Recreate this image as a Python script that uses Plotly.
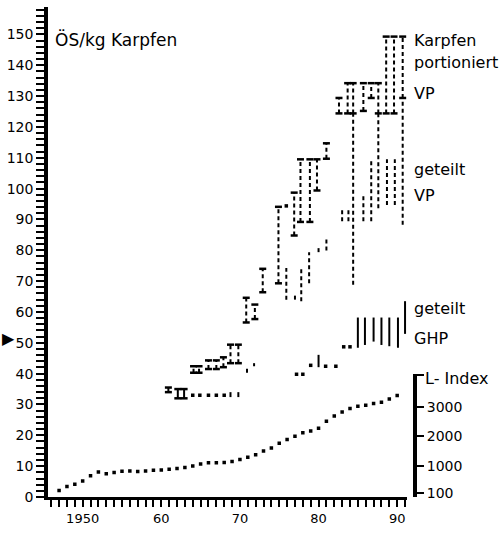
import plotly.graph_objects as go

# ---------------- data ----------------
# L-Index (Lebenshaltungskosten-Index), right-hand axis
l_years = list(range(1947, 1991))
l_index = [175, 307, 383, 492, 670, 802, 736, 779, 822, 835,
           812, 835, 855, 868, 888, 921, 954, 1000, 1066, 1109,
           1109, 1119, 1152, 1218, 1297, 1383, 1505, 1614, 1769, 1901,
           2010, 2122, 2188, 2274, 2518, 2693, 2825, 2947, 3023, 3056,
           3112, 3155, 3264, 3386]

# Karpfen portioniert, Verbraucherpreis (ÖS/kg): price ranges
por_years = [1964.1, 1964.8, 1966.0, 1967.0, 1967.9, 1968.8, 1969.8, 1970.8,
             1971.9, 1972.9, 1974.9, 1976.9, 1977.7, 1978.9, 1979.8, 1981.0,
             1982.6, 1983.7, 1984.4, 1985.7, 1986.7, 1987.6, 1988.6, 1989.6, 1990.7]
por_low = [40.3, 40.3, 41.5, 41.5, 42.1, 43.4, 43.4, 56.6,
           57.7, 66.4, 69.3, 84.8, 89.2, 89.2, 99.4, 109.7,
           124.4, 124.4, 124.4, 125.2, 129.4, 124.4, 124.4, 124.4, 129.4]
por_high = [42.4, 42.4, 44.3, 44.3, 45.3, 49.4, 49.4, 64.6,
            62.4, 74.0, 94.1, 98.7, 109.5, 109.5, 109.5, 114.7,
            129.4, 134.2, 134.2, 134.2, 134.2, 134.2, 149.3, 149.3, 149.3]

# Karpfen geteilt, Verbraucherpreis (ÖS/kg)
vp_years = [1970.9, 1971.8, 1975.9, 1975.9, 1977.0, 1977.8, 1978.8, 1980.0, 1981.0,
            1983.0, 1983.8, 1984.4, 1985.7, 1986.7, 1987.6, 1988.7, 1989.7, 1990.7]
vp_low = [40.3, 42.4, 64.0, 94.4, 64.0, 63.5, 69.3, 79.4, 79.9,
          89.4, 89.4, 68.8, 89.4, 89.4, 93.6, 94.7, 94.7, 88.3]
vp_high = [41.9, 43.4, 74.3, 94.4, 66.0, 74.8, 79.4, 80.9, 84.3,
           94.0, 93.1, 124.4, 98.4, 109.5, 124.4, 109.5, 109.5, 129.4]

# Karpfen geteilt, Großhandelspreis (ÖS/kg)
ghp_early_years = [1960.9, 1962.1, 1962.9]
ghp_early_low = [34.0, 32.0, 32.0]
ghp_early_high = [35.5, 35.0, 35.0]

ghp_years = [1964.0, 1964.9, 1966.0, 1967.0, 1968.0, 1968.8, 1969.8,
             1977.2, 1978.0, 1979.0, 1980.0, 1980.9, 1982.2, 1983.2, 1984.0,
             1985.0, 1985.9, 1987.0, 1988.0, 1989.0, 1990.1, 1991.0]
ghp_low = [33.0, 33.0, 33.0, 33.0, 33.0, 32.4, 32.4,
           39.8, 39.8, 42.7, 42.1, 42.4, 42.4, 48.7, 48.7,
           48.4, 49.3, 50.4, 49.3, 48.9, 48.4, 52.9]
ghp_high = [33.0, 33.0, 33.0, 33.0, 33.0, 34.0, 34.0,
            39.8, 39.8, 42.7, 46.1, 42.4, 42.4, 48.7, 48.7,
            58.2, 58.2, 58.2, 58.2, 58.2, 58.2, 63.5]

# tick marks: a tick every year / every 2 ÖS, labels at the decades
x_tick_vals = list(range(1946, 1992))
x_tick_labels = {1950: "1950", 1960: "60", 1970: "70", 1980: "80", 1990: "90"}
y_tick_vals = list(range(0, 159, 2))
y_tick_labels = {v: str(v) for v in range(0, 151, 10)}
l_tick_vals = [100, 1000, 2000, 3000, 4080]
l_tick_text = ["100", "1000", "2000", "3000", ""]

labels_right = [("Karpfen", 147.9), ("portioniert", 141.0), ("VP", 131.0),
                ("geteilt", 106.3), ("VP", 97.8), ("geteilt", 61.0), ("GHP", 51.5)]

X_RANGE = [1945.59, 1991.24]
Y_RANGE = [0, 158.9]

# ---------------- helpers ----------------
BLACK = "black"


def segments(xs, lo, hi):
    X, Y = [], []
    for x, a, b in zip(xs, lo, hi):
        if a != b:
            X += [x, x, None]
            Y += [a, b, None]
    return X, Y


def singles(xs, lo, hi):
    X, Y = [], []
    for x, a, b in zip(xs, lo, hi):
        if a == b:
            X.append(x)
            Y.append(a)
    return X, Y


def range_traces(xs, lo, hi, dash, caps, width=2.0):
    traces = []
    X, Y = segments(xs, lo, hi)
    traces.append(go.Scatter(x=X, y=Y, mode="lines",
                             line=dict(color=BLACK, width=width, dash=dash),
                             hoverinfo="skip"))
    if caps:
        keep = [(x, a, b) for x, a, b in zip(xs, lo, hi) if a != b]
        cx = [k[0] for k in keep] * 2
        cy = [k[1] for k in keep] + [k[2] for k in keep]
        traces.append(go.Scatter(x=cx, y=cy, mode="markers",
                                 marker=dict(symbol="line-ew", size=5,
                                             line=dict(color=BLACK, width=2.5)),
                                 hoverinfo="skip"))
    sx, sy = singles(xs, lo, hi)
    if sx:
        traces.append(go.Scatter(x=sx, y=sy, mode="markers",
                                 marker=dict(symbol="square", size=3.5, color=BLACK),
                                 hoverinfo="skip"))
    return traces


fig = go.Figure()
for t in range_traces(por_years, por_low, por_high, "4px,3px", True):
    fig.add_trace(t)
for t in range_traces(vp_years, vp_low, vp_high, "4px,3px", False):
    fig.add_trace(t)
for t in range_traces(ghp_early_years, ghp_early_low, ghp_early_high, "solid", True):
    fig.add_trace(t)
for t in range_traces(ghp_years, ghp_low, ghp_high, "solid", False):
    fig.add_trace(t)

fig.add_trace(go.Scatter(x=l_years, y=l_index, mode="markers", yaxis="y2",
                         marker=dict(symbol="square", size=3.5, color=BLACK),
                         hoverinfo="skip"))

tick_common = dict(showgrid=False, zeroline=False, showline=True,
                   linecolor=BLACK, tickcolor=BLACK, ticks="outside")

fig.update_layout(
    width=503, height=533,
    margin=dict(l=45, r=88, t=7, b=24),
    paper_bgcolor="white", plot_bgcolor="rgba(0,0,0,0)",
    showlegend=False,
    font=dict(family="DejaVu Sans", color=BLACK),
    xaxis=dict(range=X_RANGE, domain=[0, 0.978], anchor="y",
               linewidth=3, ticklen=7, tickwidth=1.5,
               tickmode="array", tickvals=x_tick_vals,
               ticktext=[x_tick_labels.get(v, "") for v in x_tick_vals],
               tickfont=dict(size=13, color=BLACK),
               **tick_common),
    yaxis=dict(range=Y_RANGE, domain=[0, 1], anchor="x",
               linewidth=3.5, ticklen=8, tickwidth=1.5,
               tickmode="array", tickvals=y_tick_vals,
               ticktext=[y_tick_labels.get(v, "") for v in y_tick_vals],
               tickfont=dict(size=14, color=BLACK),
               **tick_common),
    yaxis2=dict(range=[-46, 4102], domain=[0, 0.2504], anchor="free",
                position=1.0, side="right",
                linewidth=4, ticklen=7, tickwidth=1.5,
                tickmode="array", tickvals=l_tick_vals, ticktext=l_tick_text,
                tickfont=dict(size=14, color=BLACK),
                **tick_common),
)

fig.add_annotation(text="ÖS/kg Karpfen", xref="paper", yref="y",
                   x=0.0135, y=148.4, xanchor="left", yanchor="middle",
                   showarrow=False, font=dict(size=17, color=BLACK))
for txt, yv in labels_right:
    fig.add_annotation(text=txt, xref="paper", yref="y", x=0.992, y=yv,
                       xanchor="left", yanchor="middle", showarrow=False,
                       font=dict(size=16, color=BLACK))
fig.add_annotation(text="L- Index", xref="paper", yref="y", x=1.0216, y=38.4,
                   xanchor="left", yanchor="middle", showarrow=False,
                   font=dict(size=16, color=BLACK))
fig.add_annotation(text="▶", xref="paper", yref="y", x=-0.108, y=51.3,
                   xanchor="center", yanchor="middle", showarrow=False,
                   font=dict(size=16, color=BLACK))

fig.write_html("out.html")
